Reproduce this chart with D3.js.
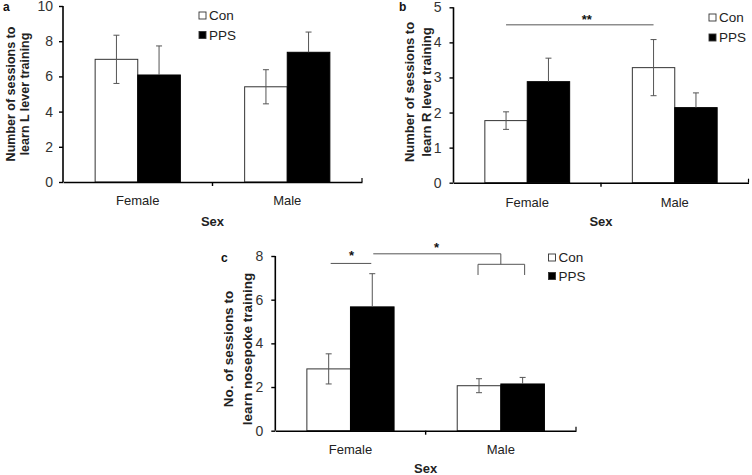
<!DOCTYPE html>
<html><head><meta charset="utf-8">
<script src="https://cdn.jsdelivr.net/npm/d3@7"></script>
<style>body{margin:0;background:#fff}svg{display:block}text{font-family:"Liberation Sans",Arial,sans-serif}</style>
</head><body><svg id="c" width="752" height="475"></svg>
<script>
const categories = ["Female", "Male"];
const seriesNames = ["Con", "PPS"];
// panel a: L lever training
const aCon = [6.97, 5.41];
const aConErr = [1.37, 0.97];
const aPPS = [6.08, 7.37];
const aPPSErr = [1.65, 1.15];
const aTicks = [0, 2, 4, 6, 8, 10];
// panel b: R lever training
const bCon = [1.77, 3.28];
const bConErr = [0.25, 0.80];
const bPPS = [2.88, 2.14];
const bPPSErr = [0.67, 0.42];
const bTicks = [0, 1, 2, 3, 4, 5];
// panel c: nosepoke training
const cCon = [2.83, 2.06];
const cConErr = [0.69, 0.32];
const cPPS = [5.67, 2.14];
const cPPSErr = [1.52, 0.30];
const cTicks = [0, 2, 4, 6, 8];

const svg = d3.select("#c");

function panel(cfg) {
  const g = svg.append("g");
  const x = d3.scaleBand().domain(categories).range([cfg.x0, cfg.x1]);
  const bw = x.bandwidth();
  const gw = bw * cfg.frac;
  const xs = d3.scaleBand().domain(seriesNames).range([(bw - gw) / 2, (bw + gw) / 2]);
  const y = d3.scaleLinear().domain([0, cfg.ymax]).range([cfg.y0, cfg.y1]);
  const series = [
    {name: "Con", vals: cfg.con, err: cfg.conErr, fill: "#fff", stroke: "#333", both: true},
    {name: "PPS", vals: cfg.pps, err: cfg.ppsErr, fill: "#000", stroke: "#000", both: false}
  ];
  series.forEach(s => {
    categories.forEach((c, i) => {
      const bx = x(c) + xs(s.name);
      g.append("rect").attr("x", bx).attr("width", xs.bandwidth())
        .attr("y", y(s.vals[i])).attr("height", y(0) - y(s.vals[i]))
        .attr("fill", s.fill).attr("stroke", s.stroke).attr("stroke-width", 1);
    });
  });
  series.forEach(s => {
    categories.forEach((c, i) => {
      const cx = x(c) + xs(s.name) + xs.bandwidth() / 2;
      const hi = y(s.vals[i] + s.err[i]);
      const lo = s.both ? y(s.vals[i] - s.err[i]) : y(s.vals[i]);
      const col = "#555";
      g.append("line").attr("x1", cx).attr("x2", cx).attr("y1", hi).attr("y2", lo).attr("stroke", col);
      g.append("line").attr("x1", cx - 3).attr("x2", cx + 3).attr("y1", hi).attr("y2", hi).attr("stroke", col);
      if (s.both) g.append("line").attr("x1", cx - 3).attr("x2", cx + 3).attr("y1", lo).attr("y2", lo).attr("stroke", col);
    });
  });
  // y axis
  const ya = g.append("g").attr("transform", `translate(${cfg.x0},0)`)
    .call(d3.axisLeft(y).tickValues(cfg.ticks).tickFormat(d3.format("d")).tickSize(4).tickPadding(cfg.tpad).tickSizeOuter(0));
  ya.select(".domain").attr("stroke", "#000").attr("stroke-width", 1.6).attr("d", `M0,${cfg.y0}V${cfg.y1}`);
  ya.selectAll(".tick line").attr("stroke", "#000").attr("stroke-width", 1.4);
  ya.selectAll(".tick text").attr("font-size", 14).attr("fill", "#333").attr("font-family", "Liberation Sans, Arial, sans-serif");
  // x axis
  const xa = g.append("g").attr("transform", `translate(0,${cfg.y0})`)
    .call(d3.axisBottom(x).tickSize(0).tickPadding(cfg.xpad).tickSizeOuter(0));
  xa.select(".domain").attr("stroke", "#000").attr("stroke-width", 1.6);
  xa.selectAll(".tick text").attr("font-size", 13).attr("fill", "#222").attr("font-family", "Liberation Sans, Arial, sans-serif");
  const mid = x("Male");
  g.append("line").attr("x1", mid).attr("x2", mid).attr("y1", cfg.y0).attr("y2", cfg.y0 + 4).attr("stroke", "#000").attr("stroke-width", 1.4);
  g.append("line").attr("x1", cfg.x1).attr("x2", cfg.x1).attr("y1", cfg.y0).attr("y2", cfg.y0 - 4).attr("stroke", "#000").attr("stroke-width", 1.2);
  // x title
  g.append("text").attr("x", (cfg.x0 + cfg.x1) / 2).attr("y", cfg.sexY).attr("text-anchor", "middle")
    .attr("font-weight", "bold").attr("font-size", 13).attr("fill", "#222").text("Sex");
  // y title
  const yt = g.append("text").attr("transform", `translate(${cfg.ytX},${cfg.ytY}) rotate(-90)`)
    .attr("text-anchor", "middle").attr("font-weight", "bold").attr("font-size", cfg.ytSize).attr("fill", "#222");
  cfg.ytitle.forEach((t, k) => yt.append("tspan").attr("x", 0).attr("dy", k === 0 ? 0 : cfg.ytGap).text(t));
  // panel label
  g.append("text").attr("x", cfg.lab[0]).attr("y", cfg.lab[1]).attr("font-family", "Liberation Serif, serif")
    .attr("font-weight", "bold").attr("font-size", 12).attr("fill", "#111").text(cfg.label);
  // legend
  seriesNames.forEach((n, k) => {
    const ly = cfg.leg[1] + k * cfg.legGap;
    g.append("rect").attr("x", cfg.leg[0]).attr("y", ly - 8).attr("width", 7).attr("height", 7)
      .attr("fill", k === 0 ? "#fff" : "#000").attr("stroke", "#333").attr("stroke-width", 0.9);
    g.append("text").attr("x", cfg.leg[0] + 10).attr("y", ly).attr("font-size", 13.5).attr("fill", "#222").text(n);
  });
  return {g, x, xs, y};
}

const A = panel({x0: 63, x1: 362, y0: 182, y1: 6, ymax: 10, frac: 0.57, ticks: aTicks, tpad: 6, xpad: 14,
  con: aCon, conErr: aConErr, pps: aPPS, ppsErr: aPPSErr, sexY: 226,
  ytitle: ["Number of sessions to", "learn L lever training"], ytX: 15, ytY: 94, ytSize: 12.5, ytGap: 13.5,
  lab: [3, 11], label: "a", leg: [199, 20], legGap: 19.5});

const B = panel({x0: 453.5, x1: 748.5, y0: 182.7, y1: 7.3, ymax: 5, frac: 0.575, ticks: bTicks, tpad: 8, xpad: 15,
  con: bCon, conErr: bConErr, pps: bPPS, ppsErr: bPPSErr, sexY: 226,
  ytitle: ["Number of sessions to", "learn R lever training"], ytX: 414, ytY: 92, ytSize: 13, ytGap: 17,
  lab: [399, 11], label: "b", leg: [709, 22], legGap: 20});

const C = panel({x0: 275.3, x1: 576, y0: 430.7, y1: 256, ymax: 8, frac: 0.58, ticks: cTicks, tpad: 8, xpad: 14,
  con: cCon, conErr: cConErr, pps: cPPS, ppsErr: cPPSErr, sexY: 473,
  ytitle: ["No. of sessions to", "learn nosepoke training"], ytX: 233, ytY: 349, ytSize: 13.5, ytGap: 19,
  lab: [221, 262], label: "c", leg: [548.5, 262], legGap: 18.5});

// significance annotations
function sline(g, x1, x2, yy) {
  g.append("line").attr("x1", x1).attr("x2", x2).attr("y1", yy).attr("y2", yy).attr("stroke", "#555").attr("stroke-width", 1);
}
function star(g, xx, yy, t) {
  g.append("text").attr("x", xx).attr("y", yy).attr("text-anchor", "middle").attr("font-weight", "bold")
    .attr("font-size", 13).attr("fill", "#111").text(t);
}
// panel b: ** between Female Con and Male Con
{
  const xb1 = B.x("Female") + B.xs("Con") + B.xs.bandwidth() / 2;
  const xb2 = B.x("Male") + B.xs("Con") + B.xs.bandwidth() / 2;
  const yy = B.y(4.5);
  sline(B.g, xb1, xb2, yy);
  star(B.g, (xb1 + xb2) / 2 + 7, yy - 0.5, "**");
}
// panel c
{
  const g = C.g;
  const fc = C.x("Female") + C.xs("Con") + C.xs.bandwidth() / 2;
  const fp = C.x("Female") + C.xs("PPS") + C.xs.bandwidth() / 2;
  const mc = C.x("Male") + C.xs("Con") + C.xs.bandwidth() / 2;
  const mp = C.x("Male") + C.xs("PPS") + C.xs.bandwidth() / 2;
  const yShort = C.y(7.66), yLong = C.y(8.1), yBr = C.y(7.62), yLeg = C.y(7.13);
  sline(g, fc + 2, fp - 1, yShort);
  star(g, (fc + fp) / 2 + 1, yShort - 3, "*");
  const bm = C.x("Male") + C.xs("PPS");
  sline(g, fp + 1, bm, yLong);
  star(g, (fp + bm) / 2 + 0, yLong - 2, "*");
  g.append("path").attr("fill", "none").attr("stroke", "#555")
    .attr("d", `M${bm},${yLong}V${yBr}M${mc - 1},${yLeg}V${yBr}H${mp + 2}V${yLeg}`);
}
</script></body></html>
